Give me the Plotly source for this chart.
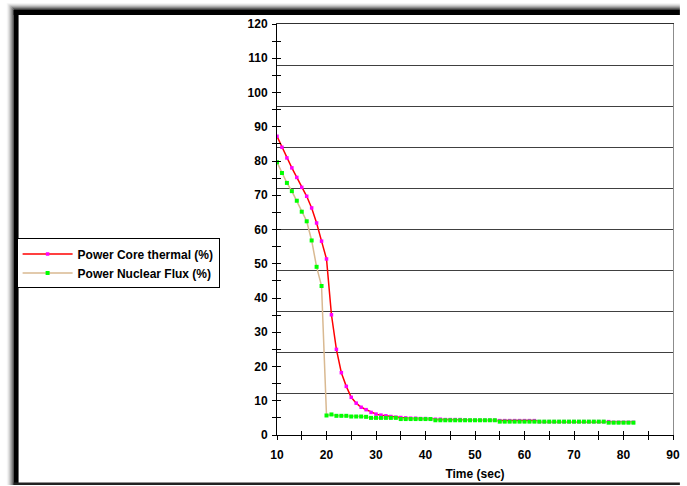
import plotly.graph_objects as go

# ---------------- data ----------------
time_sec = list(range(10, 83))

core_thermal = [
    87.2, 84.0, 80.9, 78.0, 75.2, 72.3, 69.7, 66.3, 61.9, 56.6,   # 10-19
    51.4, 35.1, 25.0, 18.2, 14.2, 11.0, 9.3, 8.1, 7.4, 6.6,        # 20-29
    6.1, 5.8, 5.6, 5.4, 5.2, 5.1, 5.0, 4.9, 4.9, 4.8,              # 30-39
    4.8, 4.7, 4.6, 4.6, 4.5, 4.5, 4.5, 4.5, 4.4, 4.3,              # 40-49
    4.3, 4.3, 4.3, 4.3, 4.3, 4.2, 4.2, 4.2, 4.2, 4.2,              # 50-59
    4.2, 4.2, 4.2, 3.9, 3.9, 3.9, 3.9, 3.9, 3.9, 3.9,              # 60-69
    3.9, 3.9, 3.9, 3.9, 3.9, 3.9, 3.9, 3.9, 3.7, 3.7,              # 70-79
    3.7, 3.7, 3.7,                                                 # 80-82
]

nuclear_flux = [
    79.6, 76.5, 73.6, 71.2, 68.4, 65.2, 62.4, 56.8, 49.1, 43.5,   # 10-19
    5.7, 6.0, 5.6, 5.6, 5.6, 5.4, 5.4, 5.4, 5.3, 5.0,              # 20-29
    5.0, 5.0, 5.0, 5.0, 5.0, 4.65, 4.65, 4.65, 4.65, 4.65,         # 30-39
    4.65, 4.65, 4.3, 4.3, 4.3, 4.3, 4.3, 4.3, 4.3, 4.3,            # 40-49
    4.3, 4.3, 4.3, 4.3, 4.3, 3.9, 3.9, 3.9, 3.9, 3.9,              # 50-59
    3.9, 3.9, 3.9, 3.9, 3.9, 3.9, 3.9, 3.9, 3.9, 3.9,              # 60-69
    3.9, 3.9, 3.9, 3.9, 3.9, 3.9, 3.9, 3.6, 3.6, 3.6,              # 70-79
    3.6, 3.6, 3.6,                                                 # 80-82
]

series_names = ["Power Core thermal (%)", "Power Nuclear Flux (%)"]
x_title = "Time (sec)"

# ---------------- figure ----------------
W, H = 687, 486
L, R, T, B = 277, 7, 24, 50
PW, PH = W - L - R, H - T - B

def px(xp):
    return (xp - L) / PW

def py(yp):
    return (H - B - yp) / PH

def prect(x0, y0, x1, y1, color):
    return dict(type="rect", xref="paper", yref="paper",
                x0=px(x0), y0=py(y0), x1=px(x1), y1=py(y1),
                fillcolor=color, line=dict(width=0), layer="below")

FONT = dict(family="Liberation Sans, Arial, sans-serif", size=12, color="black", weight="bold")

fig = go.Figure()

fig.add_trace(go.Scatter(
    x=time_sec, y=core_thermal, name=series_names[0], mode="lines+markers",
    line=dict(color="#FF0000", width=1.5),
    marker=dict(symbol="square", size=3.5, color="#FF00FF"),
))
fig.add_trace(go.Scatter(
    x=time_sec, y=nuclear_flux, name=series_names[1], mode="lines+markers",
    line=dict(color="#D9B991", width=1.5),
    marker=dict(symbol="square", size=4, color="#00FF00"),
))
# helper (empty) traces so overlay axes are instantiated
for xa, ya in [("x2", "y2"), ("x3", "y3")]:
    fig.add_trace(go.Scatter(x=[], y=[], xaxis=xa, yaxis=ya, showlegend=False, hoverinfo="skip"))

# window frame with soft shadow (top and left), thin line at bottom
shapes = []
grays = [245, 228, 205, 175, 140, 100, 60]
for i, g in enumerate(grays):
    c = f"rgb({g},{g},{g})"
    shapes.append(prect(3 + i, 3 + i, W, 4 + i, c))      # top shadow strip
    shapes.append(prect(2 + i, 3 + i, 3 + i, H, c))      # left shadow strip
shapes.append(prect(9, 10, W, 15, "black"))              # top bar
shapes.append(prect(9, 10, 14, H, "black"))              # left bar
shapes.append(prect(9, 483.5, W, H, "#222222"))          # bottom line

fig.update_layout(
    width=W, height=H,
    margin=dict(l=L, r=R, t=T, b=B, pad=0),
    paper_bgcolor="white", plot_bgcolor="white",
    font=FONT,
    shapes=shapes,
    showlegend=True,
    legend=dict(
        x=px(12), y=py(239), xanchor="left", yanchor="top",
        bgcolor="white", bordercolor="black", borderwidth=1,
        font=FONT, itemwidth=50, tracegroupgap=0,
    ),
    xaxis=dict(
        range=[10, 90], tick0=10, dtick=10, ticks="outside", ticklen=4, tickcolor="black",
        minor=dict(dtick=5, tick0=10, ticks="outside", ticklen=4, tickcolor="black"),
        showline=True, linecolor="black", linewidth=1, showgrid=False, zeroline=False,
        tickfont=FONT, ticklabelstandoff=5,
        title=dict(text=x_title, font=FONT, standoff=8),
    ),
    xaxis2=dict(
        range=[10, 90], overlaying="x", anchor="y", side="bottom", tick0=10, dtick=5,
        ticks="inside", ticklen=4, tickcolor="black", showticklabels=False,
        showline=False, showgrid=False, zeroline=False,
    ),
    xaxis3=dict(
        range=[10, 90], overlaying="x", anchor="y", side="top",
        ticks="", showticklabels=False, showline=True, linecolor="#303030", linewidth=1,
        showgrid=False, zeroline=False,
    ),
    yaxis=dict(
        range=[0, 120], tick0=0, dtick=10, ticks="outside", ticklen=4, tickcolor="black",
        minor=dict(dtick=5, tick0=0, ticks="outside", ticklen=4, tickcolor="black"),
        showline=True, linecolor="black", linewidth=1, showgrid=False, zeroline=False,
        tickfont=FONT, ticklabelstandoff=2,
    ),
    yaxis2=dict(
        range=[0, 120], overlaying="y", anchor="x", side="left", tick0=0, dtick=5,
        ticks="inside", ticklen=4, tickcolor="black", showticklabels=False,
        showline=False, showgrid=False, zeroline=False,
    ),
    yaxis3=dict(
        range=[0, 120], overlaying="y", anchor="x", side="right", tick0=0, dtick=12,
        ticks="", showticklabels=False, showline=True, linecolor="#8C8C8C", linewidth=1,
        showgrid=True, gridcolor="#404040", gridwidth=1.3, zeroline=False,
    ),
)

fig.write_html(
    "out.html",
    config={"displayModeBar": False},
    post_script="document.body.style.margin='0';document.body.style.overflow='hidden';",
)
